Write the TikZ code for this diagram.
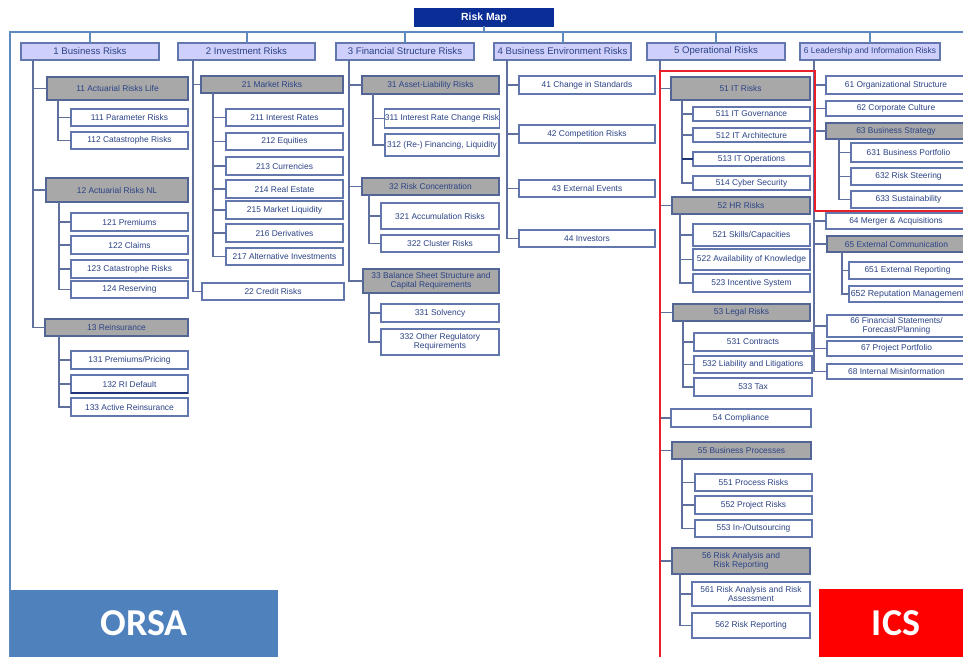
\documentclass[tikz,border=0pt]{standalone}
\usepackage{fontspec}
\setmainfont{Liberation Sans}
\newfontfamily\calib{Carlito}
\definecolor{txt}{HTML}{2B4386}
\definecolor{bord}{HTML}{6277AE}
\definecolor{conn}{HTML}{5F6F9E}
\definecolor{lav}{HTML}{CFCFFB}
\definecolor{gr}{HTML}{A8A8A8}
\definecolor{fr}{HTML}{5E8ABF}
\definecolor{navy}{HTML}{0A2E96}
\definecolor{darkb}{HTML}{1F3478}
\definecolor{orsa}{HTML}{4F81BD}
\definecolor{redf}{HTML}{E8202A}
\tikzset{
  base/.style={draw=bord,line width=1.1pt,inner sep=0pt,outer sep=0pt,align=center,text=txt,font=\fontsize{8.4}{9}\selectfont},
  leaf/.style={base,fill=white},
  top/.style={base,fill=lav,font=\fontsize{9.6}{10}\selectfont},
  gbox/.style={base,fill=gr,draw=bord!85!black,line width=1.3pt},
  link/.style={draw=conn,line width=1.1pt},
  accent/.style={draw=darkb,line width=1.3pt},
  frameline/.style={draw=fr,line width=2pt},
  redline/.style={draw=redf,line width=2.8pt},
  banner/.style={inner sep=0pt,outer sep=0pt,text=white,font=\calib\bfseries\fontsize{38}{40}\selectfont}
}
\newcommand{\bx}[7]{\node[#1,minimum width={(#5-#3)*1pt},minimum height={(#6-#4)*1pt}] (#2) at ({(#3+#5)/2},{(#4+#6)/2}) {#7};}
\newcommand{\lk}[3]{\draw[link] (#1.south -| #2,0) |- (#3.west);}
\begin{document}
\begin{tikzpicture}[x=1pt,y=-1pt]
\clip (0,0) rectangle (963,657);
\fill[white] (0,0) rectangle (963,657);
% frame
\coordinate (topbus) at (0,32);
\draw[frameline] (10,657) -- (10,32) -- (963,32);
% root
\bx{base,fill=navy,draw=navy,text=white,font=\bfseries\fontsize{10.4}{11}\selectfont}{root}{415}{9}{553}{26}{Risk Map}
% level 1
\bx{top}{n1}{21}{43}{159}{60}{1 Business Risks}
\bx{top}{n2}{178}{43}{315}{60}{2 Investment Risks}
\bx{top}{n3}{336}{43}{474}{60}{3 Financial Structure Risks}
\bx{top}{n4}{494}{43}{631}{60}{4 Business Environment Risks}
\bx{top}{n5}{647}{43}{785}{60}{5 Operational Risks}
\bx{top,font=\fontsize{8.4}{9}\selectfont}{n6}{800}{43}{940}{60}{6 Leadership and Information Risks}
% column 1
\bx{gbox}{n11}{47}{77}{188}{100}{11 Actuarial Risks Life}
\bx{leaf}{n111}{71}{109}{188}{126}{111 Parameter Risks}
\bx{leaf}{n112}{71}{132}{188}{149}{112 Catastrophe Risks}
\bx{gbox}{n12}{46}{178}{188}{202}{12 Actuarial Risks NL}
\bx{leaf}{n121}{71}{213}{188}{231}{121 Premiums}
\bx{leaf}{n122}{71}{236}{188}{254}{122 Claims}
\bx{leaf}{n123}{71}{260}{188}{278}{123 Catastrophe Risks}
\bx{leaf}{n124}{71}{281}{188}{298}{124 Reserving}
\bx{gbox}{n13}{45}{319}{188}{336}{13 Reinsurance}
\bx{leaf}{n131}{71}{351}{188}{369}{131 Premiums/Pricing}
\bx{leaf}{n132}{71}{375}{188}{393}{132 RI Default}
\bx{leaf}{n133}{71}{398}{188}{416}{133 Active Reinsurance}
% column 2
\bx{gbox}{n21}{201}{76}{343}{93}{21 Market Risks}
\bx{leaf}{n211}{226}{109}{343}{126}{211 Interest Rates}
\bx{leaf}{n212}{226}{133}{343}{150}{212 Equities}
\bx{leaf}{n213}{226}{157}{343}{175}{213 Currencies}
\bx{leaf}{n214}{226}{180}{343}{198}{214 Real Estate}
\bx{leaf}{n215}{226}{201}{343}{219}{215 Market Liquidity}
\bx{leaf}{n216}{226}{224}{343}{242}{216 Derivatives}
\bx{leaf}{n217}{226}{248}{343}{265}{217 Alternative Investments}
\bx{leaf}{n22}{202}{283}{344}{300}{22 Credit Risks}
% column 3
\bx{gbox}{n31}{362}{76}{499}{94}{31 Asset-Liability Risks}
\bx{leaf}{n311}{385}{109}{499}{128}{311 Interest Rate Change Risk}
\bx{leaf}{n312}{385}{134}{499}{156}{312 (Re-) Financing, Liquidity}
\bx{gbox}{n32}{362}{178}{499}{195}{32 Risk Concentration}
\bx{leaf}{n321}{381}{203}{499}{229}{321 Accumulation Risks}
\bx{leaf}{n322}{381}{235}{499}{252}{322 Cluster Risks}
\bx{gbox}{n33}{363}{269}{499}{293}{33 Balance Sheet Structure and\\Capital Requirements}
\bx{leaf}{n331}{381}{304}{499}{322}{331 Solvency}
\bx{leaf}{n332}{381}{329}{499}{355}{332 Other Regulatory\\Requirements}
% column 4
\bx{leaf}{n41}{519}{76}{655}{94}{41 Change in Standards}
\bx{leaf}{n42}{519}{125}{655}{143}{42 Competition Risks}
\bx{leaf}{n43}{519}{180}{655}{197}{43 External Events}
\bx{leaf}{n44}{519}{230}{655}{247}{44 Investors}
% column 5
\bx{gbox}{n51}{671}{77}{810}{100}{51 IT Risks}
\bx{leaf}{n511}{693}{107}{810}{121}{511 IT Governance}
\bx{leaf}{n512}{693}{128}{810}{142}{512 IT Architecture}
\bx{leaf}{n513}{693}{152}{810}{166}{513 IT Operations}
\bx{leaf}{n514}{693}{176}{810}{190}{514 Cyber Security}
\bx{gbox}{n52}{672}{197}{810}{214}{52 HR Risks}
\bx{leaf}{n521}{693}{224}{810}{246}{521 Skills/Capacities}
\bx{leaf}{n522}{693}{249}{810}{270}{522 Availability of Knowledge}
\bx{leaf}{n523}{693}{274}{810}{292}{523 Incentive System}
\bx{gbox}{n53}{673}{304}{810}{321}{53 Legal Risks}
\bx{leaf}{n531}{694}{333}{812}{351}{531 Contracts}
\bx{leaf}{n532}{694}{356}{812}{373}{532 Liability and Litigations}
\bx{leaf}{n533}{694}{378}{812}{396}{533 Tax}
\bx{leaf}{n54}{671}{409}{811}{427}{54 Compliance}
\bx{gbox}{n55}{672}{442}{811}{459}{55 Business Processes}
\bx{leaf}{n551}{695}{474}{812}{491}{551 Process Risks}
\bx{leaf}{n552}{695}{496}{812}{514}{552 Project Risks}
\bx{leaf}{n553}{695}{520}{812}{537}{553 In-/Outsourcing}
\bx{gbox}{n56}{672}{548}{810}{574}{56 Risk Analysis and\\Risk Reporting}
\bx{leaf}{n561}{692}{582}{810}{606}{561 Risk Analysis and Risk\\Assessment}
\bx{leaf}{n562}{692}{613}{810}{638}{562 Risk Reporting}
% column 6
\bx{leaf}{n61}{826}{76}{966}{94}{61 Organizational Structure}
\bx{leaf}{n62}{826}{101}{966}{116}{62 Corporate Culture}
\bx{gbox}{n63}{826}{123}{966}{139}{63 Business Strategy}
\bx{leaf}{n631}{851}{143}{966}{162}{631 Business Portfolio}
\bx{leaf}{n632}{851}{168}{966}{185}{632 Risk Steering}
\bx{leaf}{n633}{851}{191}{966}{208}{633 Sustainability}
\bx{leaf}{n64}{826}{213}{966}{229}{64 Merger \& Acquisitions}
\bx{gbox}{n65}{827}{236}{966}{252}{65 External Communication}
\bx{leaf}{n651}{849}{262}{966}{279}{651 External Reporting}
\bx{leaf,font=\fontsize{8.8}{9}\selectfont}{n652}{849}{286}{966}{302}{652 Reputation Management}
\bx{leaf}{n66}{827}{315}{966}{337}{66 Financial Statements/\\Forecast/Planning}
\bx{leaf}{n67}{827}{341}{966}{356}{67 Project Portfolio}
\bx{leaf}{n68}{827}{364}{966}{379}{68 Internal Misinformation}
% connectors root
\draw[frameline] (root.south) -- (root.south |- topbus);
\foreach \t in {n1,n2,n3,n4,n5,n6}{\draw[frameline] (\t.north) -- (\t.north |- topbus);}
% connectors column 1
\foreach \c in {n11,n12,n13}{\lk{n1}{33}{\c}}
\foreach \c in {n111,n112}{\lk{n11}{58}{\c}}
\foreach \c in {n121,n122,n123,n124}{\lk{n12}{59}{\c}}
\foreach \c in {n131,n132,n133}{\lk{n13}{59}{\c}}
% column 2
\foreach \c in {n21,n22}{\lk{n2}{193}{\c}}
\foreach \c in {n211,n212,n213,n214,n215,n216,n217}{\lk{n21}{213}{\c}}
% column 3
\foreach \c in {n31,n32,n33}{\lk{n3}{349}{\c}}
\foreach \c in {n311,n312}{\lk{n31}{373}{\c}}
\foreach \c in {n321,n322}{\lk{n32}{369}{\c}}
\foreach \c in {n331,n332}{\lk{n33}{369}{\c}}
% column 4
\foreach \c in {n41,n42,n43,n44}{\lk{n4}{507}{\c}}
% column 5
\foreach \c in {n51,n52,n53,n54,n55,n56}{\lk{n5}{660}{\c}}
\foreach \c in {n511,n512,n513,n514}{\lk{n51}{682}{\c}}
\foreach \c in {n521,n522,n523}{\lk{n52}{680}{\c}}
\foreach \c in {n531,n532,n533}{\lk{n53}{683}{\c}}
\foreach \c in {n551,n552,n553}{\lk{n55}{682}{\c}}
\foreach \c in {n561,n562}{\lk{n56}{680}{\c}}
% column 6
\foreach \c in {n61,n62,n63,n64,n65,n66,n67,n68}{\lk{n6}{814}{\c}}
\foreach \c in {n631,n632,n633}{\lk{n63}{839}{\c}}
\foreach \c in {n651,n652}{\lk{n65}{842}{\c}}
% darker strokes
\draw[accent] (n513.west -| 682,0) -- (n513.west);
\draw[accent] (n132.south west) -- (n132.south east);
% red outline
\draw[redline] (660,657) -- (660,71) -- (815,71) -- (815,211) -- (963,211);
% banners
\bx{banner,fill=orsa}{orsa}{10}{590}{278}{657}{\raisebox{-4pt}{ORSA}}
\bx{banner,fill=red}{ics}{819}{589}{963}{657}{\hspace*{10pt}\raisebox{-4pt}{ICS}}
\end{tikzpicture}
\end{document}
